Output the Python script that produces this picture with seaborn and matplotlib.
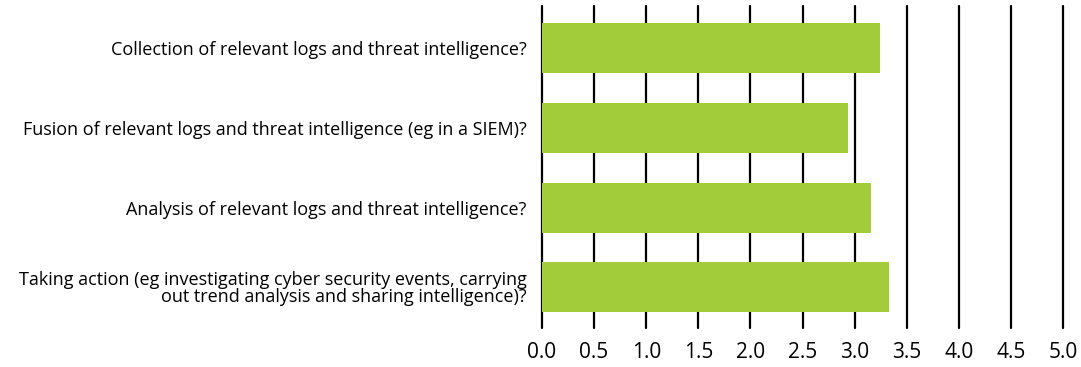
import matplotlib
matplotlib.use("Agg")
import matplotlib.pyplot as plt
import seaborn as sns
import pandas as pd

questions = [
    "Collection of relevant logs and threat intelligence?",
    "Fusion of relevant logs and threat intelligence (eg in a SIEM)?",
    "Analysis of relevant logs and threat intelligence?",
    "Taking action (eg investigating cyber security events, carrying\nout trend analysis and sharing intelligence)?",
]
scores = [3.24, 2.94, 3.16, 3.33]
xticks = [0.0, 0.5, 1.0, 1.5, 2.0, 2.5, 3.0, 3.5, 4.0, 4.5, 5.0]

df = pd.DataFrame({"question": questions, "score": scores})

sns.set_style("white")
plt.rcParams["font.family"] = ["Open Sans", "DejaVu Sans"]

fig = plt.figure(figsize=(10.81, 3.67), dpi=100)
ax = fig.add_axes([542 / 1081, 1 - 328 / 367, 521 / 1081, 322 / 367])

for x in xticks:
    ax.axvline(x, color="black", lw=1.6, zorder=0, clip_on=False)

sns.barplot(df, x="score", y="question", color="#a3cc3a", saturation=1,
            width=0.63, linewidth=0, ax=ax, zorder=2)

ax.set_xlim(0, 5)
ax.set_ylim(3.51, -0.53)
ax.set_xticks(xticks)
ax.set_xticklabels([f"{x:.1f}" for x in xticks], fontsize=15)
ax.tick_params(axis="x", length=0, pad=10, labelcolor="black")
ax.tick_params(axis="y", length=0, pad=11, labelsize=13, labelcolor="black")
for lbl in ax.get_yticklabels():
    lbl.set_multialignment("right")
    lbl.set_linespacing(0.9)
ax.set_xlabel(None)
ax.set_ylabel(None)
sns.despine(ax=ax, left=True, bottom=True)

plt.savefig("out.png", dpi=100)
